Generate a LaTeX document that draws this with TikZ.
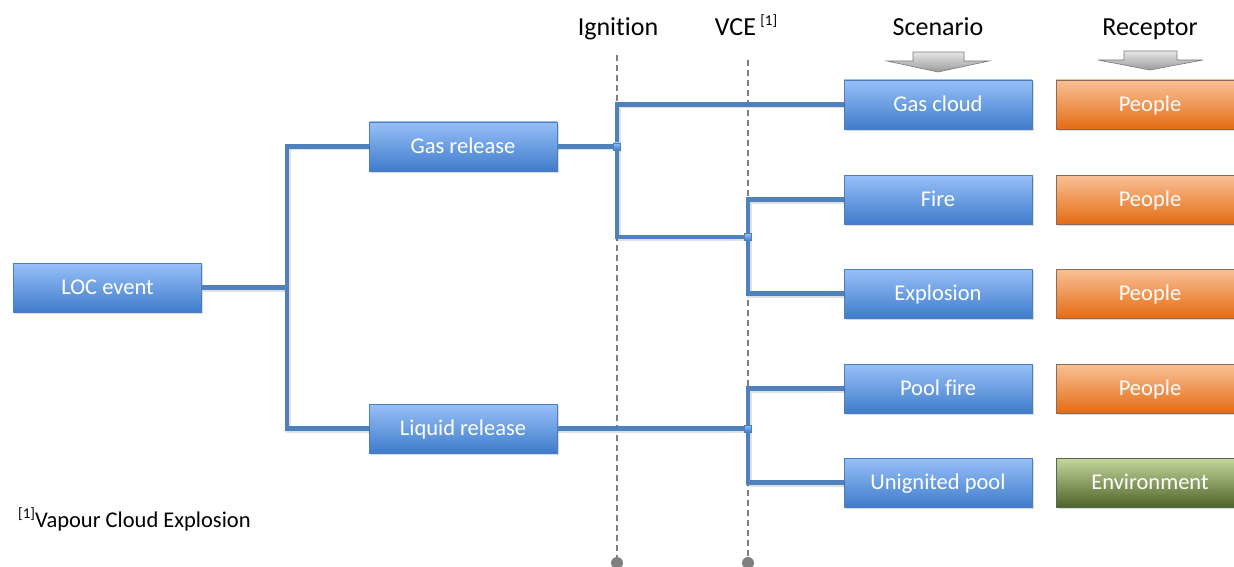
\documentclass[tikz,border=0pt]{standalone}
\usepackage{fontspec}
\setmainfont{Carlito}[Ligatures=NoCommon]
\usetikzlibrary{shadows}
\definecolor{lineblue}{HTML}{4F81BD}
\definecolor{btop}{HTML}{98C0F8}
\definecolor{bbot}{HTML}{3F7CCB}
\definecolor{bborder}{HTML}{4A7EBF}
\definecolor{otop}{HTML}{F9C196}
\definecolor{obot}{HTML}{E46C14}
\definecolor{oborder}{HTML}{8C6A55}
\definecolor{gtop}{HTML}{C4D89E}
\definecolor{gbot}{HTML}{4F6428}
\definecolor{gborder}{HTML}{5A6650}
\definecolor{dashgrey}{HTML}{808080}
\definecolor{atop}{HTML}{E6E6E6}
\definecolor{abot}{HTML}{9A9A9A}
\tikzset{
  boxbase/.style={rectangle, minimum width=188pt, minimum height=49pt, inner sep=0pt,
    text=white, font=\fontsize{22.5}{26}\selectfont, text height=16pt, text depth=2pt,
    line width=0.8pt,
    drop shadow={shadow xshift=1.5pt, shadow yshift=-2pt, opacity=0.3}},
  bluebox/.style={boxbase, draw=bborder, top color=btop, bottom color=bbot},
  orangebox/.style={boxbase, draw=oborder, top color=otop, bottom color=obot},
  greenbox/.style={boxbase, draw=gborder, top color=gtop, bottom color=gbot},
  header/.style={anchor=base, inner sep=0pt, font=\fontsize{26}{30}\selectfont},
  conn/.style={draw=lineblue, line width=4.5pt},
  connshadow/.style={draw=black, opacity=0.12, line width=5pt},
  junction/.style={rectangle, minimum size=7pt, inner sep=0pt, draw=bborder, line width=0.6pt,
    top color=btop, bottom color=bbot},
  guide/.style={draw=dashgrey, line width=1.2pt, dash pattern=on 6pt off 4pt},
  guidedot/.style={circle, fill=dashgrey, minimum size=12pt, inner sep=0pt},
  blockarrow/.style={draw=abot!80!black, line width=0.6pt, top color=atop, bottom color=abot}
}
\begin{document}
\begin{tikzpicture}[x=1pt, y=-1pt]
\useasboundingbox (0,0) rectangle (1234,567);
\clip (0,0) rectangle (1234,567);

% guide lines
\coordinate (gtop1) at (617,55);
\coordinate (gtop2) at (748,60);
\node[guidedot] (dot1) at (617,563) {};
\node[guidedot] (dot2) at (748,563) {};
\draw[guide] (gtop1) -- (dot1.center);
\draw[guide] (gtop2) -- (dot2.center);

% headers
\node[header] (hign) at (618,36) {Ignition};
\node[header] (hvce) at (746,36) {VCE\,\raisebox{0.42em}{\fontsize{15}{18}\selectfont[1]}};
\node[header] (hscen) at (938,36) {Scenario};
\node[header] (hrec) at (1150,36) {Receptor};

% block arrows
\draw[blockarrow] (913,52) -- (964,52) -- (964,61) -- (989,61) -- (938,72) -- (887,61) -- (913,61) -- cycle;
\draw[blockarrow] (1124,51) -- (1177,51) -- (1177,60) -- (1203,60) -- (1150,70) -- (1098,60) -- (1124,60) -- cycle;

% connector junction coordinates
\coordinate (jl) at (287,287.5);
\coordinate (j1) at (617,146.5);
\coordinate (j2) at (748,237);
\coordinate (j3) at (748,428.5);

% boxes
\node[bluebox] (loc) at (107.5,287.5) {LOC event};
\node[bluebox] (gas) at (463,146.5) {Gas release};
\node[bluebox] (liq) at (463,428.5) {Liquid release};
\node[bluebox] (gcloud) at (938,104.5) {Gas cloud};
\node[bluebox] (fire) at (938,199.5) {Fire};
\node[bluebox] (expl) at (938,293.5) {Explosion};
\node[bluebox] (pool) at (938,388.5) {Pool fire};
\node[bluebox] (unig) at (938,482.5) {Unignited pool};

\node[orangebox] (r1) at (1150,104.5) {People};
\node[orangebox] (r2) at (1150,199.5) {People};
\node[orangebox] (r3) at (1150,293.5) {People};
\node[orangebox] (r4) at (1150,388.5) {People};
\node[greenbox] (r5) at (1150,482.5) {Environment};

% connector shadows
\begin{scope}[transform canvas={shift={(1pt,-1.5pt)}}]
\draw[connshadow] (loc.east) -- (jl);
\draw[connshadow] (jl) |- (gas.west);
\draw[connshadow] (jl) |- (liq.west);
\draw[connshadow] (gas.east) -- (j1);
\draw[connshadow] (j1) |- (gcloud.west);
\draw[connshadow] (j1) |- (j2);
\draw[connshadow] (j2) |- (fire.west);
\draw[connshadow] (j2) |- (expl.west);
\draw[connshadow] (liq.east) -- (j3);
\draw[connshadow] (j3) |- (pool.west);
\draw[connshadow] (j3) |- (unig.west);
\end{scope}

% connectors
\draw[conn] (loc.east) -- (jl);
\draw[conn] (jl) |- (gas.west);
\draw[conn] (jl) |- (liq.west);
\draw[conn] (gas.east) -- (j1);
\draw[conn] (j1) |- (gcloud.west);
\draw[conn] (j1) |- (j2);
\draw[conn] (j2) |- (fire.west);
\draw[conn] (j2) |- (expl.west);
\draw[conn] (liq.east) -- (j3);
\draw[conn] (j3) |- (pool.west);
\draw[conn] (j3) |- (unig.west);

\node[junction] (sq1) at (j1) {};
\node[junction] (sq2) at (j2) {};
\node[junction] (sq3) at (j3) {};

% footnote
\node[anchor=base west, inner sep=0pt, font=\fontsize{22.5}{26}\selectfont] (foot) at (18,527)
  {\raisebox{0.4em}{\fontsize{15}{18}\selectfont[1]}Vapour Cloud Explosion};
\end{tikzpicture}
\end{document}
